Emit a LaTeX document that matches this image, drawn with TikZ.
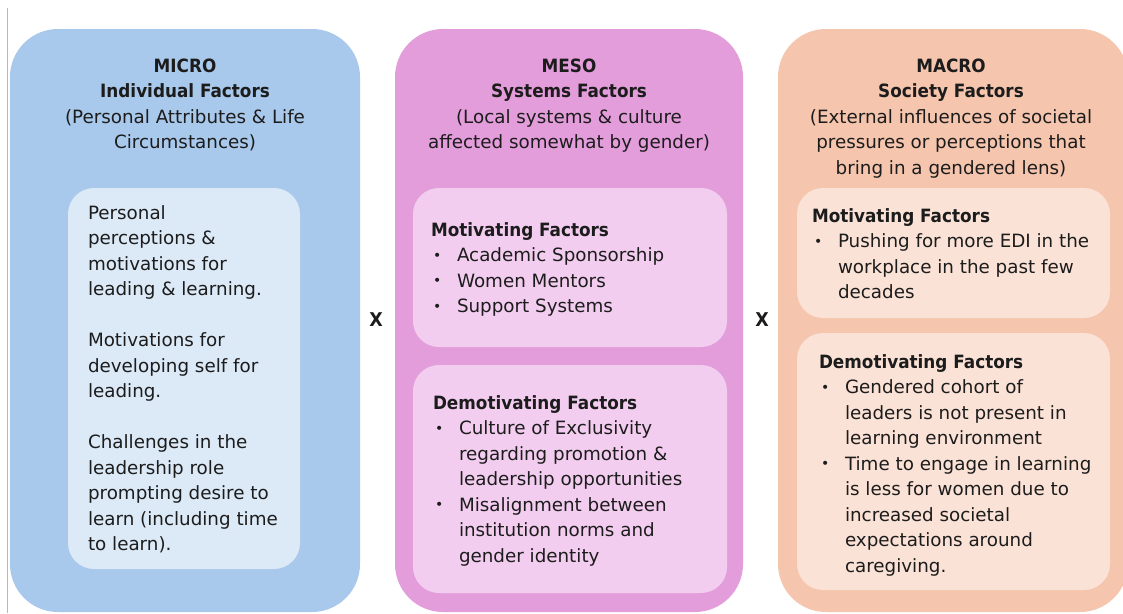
\documentclass[tikz,border=0pt]{standalone}
\usepackage{fontspec}
\setmainfont{DejaVu Sans}[BoldFeatures={FakeStretch=0.92}]
\definecolor{microOut}{HTML}{A8C9EB}
\definecolor{microIn}{HTML}{DCE9F7}
\definecolor{mesoOut}{HTML}{E39DDB}
\definecolor{mesoIn}{HTML}{F3CDEF}
\definecolor{macroOut}{HTML}{F5C5AD}
\definecolor{macroIn}{HTML}{FBE2D6}
\definecolor{ink}{HTML}{1C1C1C}
\newcommand\tblk[3]{\vtop{\hsize=#1\relax\fontsize{18.3}{25.5}\selectfont\parindent=0pt\parskip=0pt#2\leavevmode#3\par}}
\newcommand\bitem[1]{\par\hangindent=26pt\hangafter=1\noindent\makebox[26pt][l]{\hspace{2pt}\raisebox{1.2pt}{\fontsize{14}{14}\selectfont•}}#1\par}
\tikzset{
  outerbox/.style={rounded corners=48pt, inner sep=0pt, outer sep=0pt, anchor=north west},
  innerbox/.style={rounded corners=26pt, inner sep=0pt, outer sep=0pt, anchor=north west},
  txt/.style={inner sep=0pt, outer sep=0pt, text=ink},
  times/.style={inner sep=0pt, text=ink, font=\fontsize{19}{20}\selectfont\bfseries}
}
\begin{document}
\begin{tikzpicture}[x=1pt,y=-1pt]
\useasboundingbox (0,0) rectangle (1123,613);
\fill[white] (0,0) rectangle (1123,613);
\draw[gray!55, line width=1pt] (7,8) -- (7,613);
% outer boxes
\node[outerbox, fill=microOut, minimum width=350pt, minimum height=583pt] (micro) at (10,29) {};
\node[outerbox, fill=mesoOut, minimum width=348pt, minimum height=583pt] (meso) at (395,29) {};
\node[outerbox, fill=macroOut, minimum width=350pt, minimum height=583pt] (macro) at (778,29) {};
% inner boxes
\node[innerbox, fill=microIn, minimum width=232pt, minimum height=381pt] (microin) at (68,188) {};
\node[innerbox, fill=mesoIn, minimum width=314pt, minimum height=159pt] (mesomot) at (413,188) {};
\node[innerbox, fill=mesoIn, minimum width=314pt, minimum height=228pt] (mesodem) at (413,365) {};
\node[innerbox, fill=macroIn, minimum width=313pt, minimum height=130pt] (macromot) at (797,188) {};
\node[innerbox, fill=macroIn, minimum width=313pt, minimum height=257pt] (macrodem) at (797,333) {};
% headers
\node[txt, anchor=base] (microhd) at (185,72) {\tblk{330pt}{\centering}{\textbf{MICRO}\\\textbf{Individual Factors}\\(Personal Attributes \& Life\\Circumstances)}};
\node[txt, anchor=base] (mesohd) at (569,72) {\tblk{330pt}{\centering}{\textbf{MESO}\\\textbf{Systems Factors}\\(Local systems \& culture\\affected somewhat by gender)}};
\node[txt, anchor=base] (macrohd) at (951,72) {\tblk{340pt}{\centering}{\textbf{MACRO}\\\textbf{Society Factors}\\(External influences of societal\\pressures or perceptions that\\bring in a gendered lens)}};
% micro body
\node[txt, anchor=base west] (microtxt) at (88,219) {\tblk{220pt}{\raggedright}{Personal\\perceptions \&\\motivations for\\leading \& learning.\\[25.5pt]Motivations for\\developing self for\\leading.\\[25.5pt]Challenges in the\\leadership role\\prompting desire to\\learn (including time\\to learn).}};
% meso body
\node[txt, anchor=base west] (mesomottxt) at (431,236) {\tblk{300pt}{\raggedright}{\textbf{Motivating Factors}\bitem{Academic Sponsorship}\bitem{Women Mentors}\bitem{Support Systems}}};
\node[txt, anchor=base west] (mesodemtxt) at (433,409) {\tblk{300pt}{\raggedright}{\textbf{Demotivating Factors}\bitem{Culture of Exclusivity\newline regarding promotion \&\newline leadership opportunities}\bitem{Misalignment between\newline institution norms and\newline gender identity}}};
% macro body
\node[txt, anchor=base west] (macromottxt) at (812,222) {\tblk{300pt}{\raggedright}{\textbf{Motivating Factors}\bitem{Pushing for more EDI in the\newline workplace in the past few\newline decades}}};
\node[txt, anchor=base west] (macrodemtxt) at (819,368) {\tblk{300pt}{\raggedright}{\textbf{Demotivating Factors}\bitem{Gendered cohort of\newline leaders is not present in\newline learning environment}\bitem{Time to engage in learning\newline is less for women due to\newline increased societal\newline expectations around\newline caregiving.}}};
% multiplication signs
\node[times] (x1) at (376,320) {X};
\node[times] (x2) at (762,320) {X};
\end{tikzpicture}
\end{document}
